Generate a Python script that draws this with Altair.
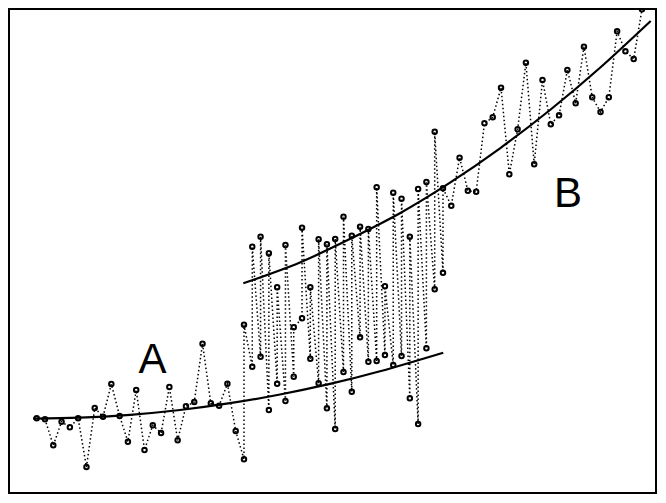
import altair as alt
import pandas as pd

# ---- data (x = step index, y = value) ----
a_idx = list(range(0, 50))
a_val = [81.7, 80.7, 54.7, 78.3, 72.7, 81.7, 33.0, 92.0, 83.3, 116.0,
         84.0, 58.3, 110.0, 50.0, 74.7, 67.0, 113.0, 59.7, 93.7, 98.0,
         156.3, 96.7, 94.3, 116.3, 69.0,
         40.7, 133.3, 143.3, 90.0, 116.3, 99.0, 123.3, 181.7, 141.3, 116.7,
         91.7, 71.0, 128.0, 108.3, 162.7, 138.3, 139.0, 145.0, 135.0, 144.0,
         101.7, 76.0, 151.7, 210.7, 227.3]

b_idx = list(range(25, 74))
b_val = [175.3, 253.3, 263.3, 246.7, 212.7, 255.0, 172.7, 272.3, 212.7, 260.7,
         255.7, 261.0, 283.3, 264.3, 273.3, 271.0, 312.7, 213.7, 307.3, 301.3,
         263.3, 311.0, 318.0, 368.3, 311.7,
         294.3, 342.3, 309.3, 308.3, 376.7, 382.7, 412.3, 325.7, 370.7, 437.3,
         335.7, 420.0, 375.7, 384.7, 430.0, 396.7, 453.3, 402.7, 388.0, 402.7,
         468.7, 448.7, 441.0, 490.7]

curve_a_x = [-0.45, 5.22, 11.25, 17.28, 23.31, 29.34, 35.37, 41.40, 49.03]
curve_a_y = [81.5, 82.4, 85.2, 90.0, 96.8, 105.5, 116.1, 128.7, 147.3]

curve_b_x = [24.92, 31.75, 37.78, 43.81, 49.85, 55.88, 61.91, 67.94, 74.05]
curve_b_y = [216.7, 237.6, 261.0, 286.8, 317.3, 351.7, 390.0, 432.2, 479.0]

label_text = ["A", "B"]
label_x = [13.97, 64.07]
label_y = [126.7, 292.7]

# ---- tables ----
a_map = dict(zip(a_idx, a_val))
b_map = dict(zip(b_idx, b_val))
rows = []
seq = 0
for i in range(0, 74):
    if i in a_map:
        rows.append({"x": i, "y": a_map[i], "g": "A", "seq": seq}); seq += 1
    if i in b_map:
        rows.append({"x": i, "y": b_map[i], "g": "B", "seq": seq}); seq += 1
pts = pd.DataFrame(rows)

curves = pd.DataFrame(
    [{"x": x, "y": y, "c": "A"} for x, y in zip(curve_a_x, curve_a_y)]
    + [{"x": x, "y": y, "c": "B"} for x, y in zip(curve_b_x, curve_b_y)]
)
labels = pd.DataFrame({"t": label_text, "x": label_x, "y": label_y})

xs = alt.Scale(domain=[-3.341, 74.69], nice=False, zero=False)
ys = alt.Scale(domain=[7, 491], nice=False, zero=False)
X = alt.X("x:Q", scale=xs, axis=None)
Y = alt.Y("y:Q", scale=ys, axis=None)

dotted = alt.Chart(pts).mark_line(
    color="black", strokeWidth=1.5, strokeDash=[1.5, 2.5]
).encode(x=X, y=Y, order=alt.Order("seq:Q"))

points = alt.Chart(pts).mark_point(
    shape="circle", filled=False, color="black", size=20, strokeWidth=2, opacity=1
).encode(x=X, y=Y)

fit = alt.Chart(curves).mark_line(
    color="black", strokeWidth=2.2, interpolate="natural"
).encode(x=X, y=Y, detail="c:N")

text = alt.Chart(labels).mark_text(
    font="Liberation Sans", fontSize=42, align="center", baseline="alphabetic", color="black"
).encode(x=X, y=Y, text="t:N")

chart = (
    alt.layer(dotted, fit, points, text)
    .properties(width=647, height=484, autosize="none",
                padding={"left": 1, "top": 1, "right": 1, "bottom": 1},
                background="white")
    .configure_view(stroke="black", strokeWidth=2)
)

chart.save("out.html", embed_options={"renderer": "svg", "actions": False})
